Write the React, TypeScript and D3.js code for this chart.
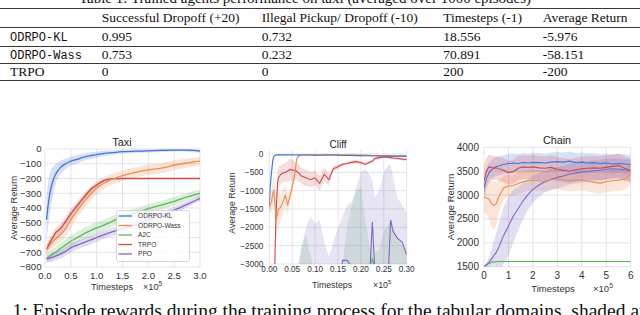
import React, { useEffect, useRef } from "react";
import * as d3 from "d3";

// ---- table ----
const tableCaption = "Table 1: Trained agents performance on taxi (averaged over 1000 episodes)";
const tableHeaders = ["Successful Dropoff (+20)", "Illegal Pickup/ Dropoff (-10)", "Timesteps (-1)", "Average Return"];
const tableAgents = ["ODRPO-KL", "ODRPO-Wass", "TRPO"];
const successfulDropoff = ["0.995", "0.753", "0"];
const illegalPickup = ["0.732", "0.232", "0"];
const timestepsCol = ["18.556", "70.891", "200"];
const averageReturn = ["-5.976", "-58.151", "-200"];
const figCaption = "1: Episode rewards during the training process for the tabular domains, shaded area are one standard deviation";

const seriesNames = ["ODRPO-KL", "ODRPO-Wass", "A2C", "TRPO", "PPO"];
const seriesColors = ["#4574d4", "#ec8a50", "#5db55e", "#d24848", "#7c69c2"];

// ---- taxi (x in 1e5 timesteps) ----
const taxiSteps = [0.03, 0.06, 0.1, 0.15, 0.2, 0.3, 0.4, 0.5, 0.6, 0.75, 0.9, 1.0, 1.15, 1.3, 1.5, 1.75, 2.0, 2.25, 2.5, 2.75, 3.0];
const taxiKL = [-480, -380, -290, -220, -175, -125, -100, -82, -72, -55, -44, -38, -30, -25, -18, -15, -13, -10, -7, -8, -15];
const taxiKLSd = [150, 150, 130, 100, 70, 45, 35, 30, 28, 25, 22, 20, 18, 15, 12, 12, 10, 10, 10, 10, 10];
const taxiWass = [-680, -670, -650, -630, -610, -580, -540, -480, -430, -360, -300, -265, -230, -205, -180, -158, -142, -130, -110, -95, -82];
const taxiWassSd = [35, 35, 38, 40, 45, 50, 55, 55, 50, 48, 45, 42, 40, 38, 35, 35, 35, 35, 33, 30, 28];
const taxiA2C = [-740, -735, -725, -712, -700, -675, -650, -625, -605, -575, -550, -535, -515, -490, -460, -435, -405, -380, -355, -325, -300];
const taxiA2CSd = [30, 30, 32, 35, 35, 38, 40, 40, 40, 38, 38, 36, 35, 35, 33, 32, 30, 30, 28, 26, 25];
const taxiTRPO = [-680, -660, -630, -600, -570, -540, -490, -440, -395, -330, -270, -245, -212, -202, -200, -200, -200, -200, -200, -200, -200];
const taxiTRPOSd = [30, 30, 30, 30, 30, 32, 32, 30, 28, 25, 20, 15, 8, 5, 3, 3, 3, 3, 3, 3, 3];
const taxiPPO = [-745, -742, -738, -733, -726, -713, -695, -670, -655, -635, -615, -600, -580, -562, -540, -515, -480, -450, -415, -375, -335];
const taxiPPOSd = [25, 25, 28, 30, 30, 30, 30, 30, 30, 30, 30, 30, 28, 28, 28, 26, 25, 25, 25, 22, 20];
const taxiXTicks = [0, 0.5, 1, 1.5, 2, 2.5, 3];
const taxiYTicks = [-800, -700, -600, -500, -400, -300, -200, -100, 0];

// ---- cliff ----
const cliffSteps = [0, 0.002, 0.005, 0.008, 0.01, 0.012, 0.015, 0.018, 0.02, 0.025, 0.03, 0.035, 0.04, 0.045, 0.05, 0.055, 0.06, 0.065, 0.07, 0.08, 0.09, 0.1, 0.11, 0.12, 0.13, 0.14, 0.15, 0.16, 0.17, 0.18, 0.19, 0.2, 0.21, 0.22, 0.225, 0.23, 0.24, 0.25, 0.26, 0.265, 0.27, 0.28, 0.29, 0.3];
const cliffKL = [-1400, -900, -480, -150, -70, -40, -30, -25, -25, -25, -25, -30, -25, -30, -25, -30, -30, -25, -30, -30, -30, -35, -35, -30, -30, -30, -35, -40, -40, -40, -45, -45, -50, -50, -50, -50, -55, -60, -60, -55, -60, -60, -60, -60];
const cliffKLSd = [300, 300, 200, 80, 40, 20, 20, 20, 20, 20, 20, 20, 20, 20, 20, 20, 20, 20, 20, 20, 20, 20, 20, 20, 20, 20, 20, 20, 20, 20, 20, 20, 20, 20, 20, 20, 20, 20, 20, 20, 20, 20, 20, 20];
const cliffWass = [-1500, -1400, -1300, -1050, -1000, -1300, -1800, -1650, -1500, -1450, -1300, -1120, -1400, -1150, -900, -600, -120, -50, -30, -30, -25, -25, -25, -25, -25, -25, -25, -25, -25, -25, -30, -30, -30, -40, -40, -40, -45, -50, -45, -55, -60, -55, -60, -60];
const cliffWassSd = [100, 200, 300, 400, 450, 500, 500, 500, 450, 400, 350, 300, 250, 200, 150, 150, 80, 30, 20, 20, 20, 20, 20, 20, 20, 20, 20, 20, 20, 20, 20, 20, 20, 20, 20, 20, 20, 20, 20, 20, 20, 20, 20, 20];
const cliffA2C = [-4000, -4000, -4000, -4000, -4000, -4000, -4000, -4000, -4000, -4000, -4000, -4000, -4000, -4000, -4000, -4000, -4000, -4000, -4000, -4000, -4000, -4000, -4000, -4000, -4000, -4000, -4000, -4000, -4000, -4000, -4000, -4000, -4000, -3100, -2850, -3100, -4000, -4000, -4000, -4000, -4000, -4000, -4000, -4000];
const cliffA2CSd = [900, 900, 900, 900, 900, 900, 900, 900, 900, 900, 900, 900, 900, 900, 900, 900, 900, 1100, 1500, 1800, 1200, 800, 800, 800, 800, 800, 800, 1000, 2000, 2600, 3000, 3100, 2200, 500, 350, 400, 1400, 1900, 2100, 2200, 2000, 1700, 1500, 1300];
const cliffTRPO = [-3500, -3500, -3500, -3500, -3400, -3000, -1500, -800, -650, -560, -520, -500, -470, -420, -440, -440, -480, -520, -600, -650, -700, -650, -800, -550, -700, -400, -350, -280, -260, -230, -210, -240, -280, -220, -200, -130, -100, -80, -90, -100, -110, -125, -140, -150];
const cliffTRPOSd = [0, 0, 0, 0, 0, 0, 400, 300, 280, 260, 250, 260, 280, 300, 280, 260, 240, 230, 220, 220, 200, 200, 200, 180, 160, 80, 60, 50, 50, 50, 50, 50, 50, 50, 50, 50, 50, 40, 40, 40, 40, 40, 40, 40];
const cliffPPO = [-3800, -3800, -3800, -3800, -3800, -3800, -3800, -3800, -3800, -3800, -3800, -3800, -3800, -3800, -3800, -3800, -3800, -3800, -3800, -3800, -3800, -3800, -3800, -3800, -3800, -3800, -3800, -2900, -2900, -3100, -3600, -3800, -3800, -3100, -1850, -3100, -3500, -3500, -3200, -1800, -2100, -2300, -2400, -2750];
const cliffPPOSd = [700, 700, 700, 700, 700, 700, 700, 700, 700, 700, 700, 700, 700, 700, 700, 700, 700, 800, 1200, 1800, 2100, 1900, 2000, 1400, 1000, 1400, 1800, 1200, 1500, 1800, 2700, 3300, 3400, 2500, 1150, 1900, 2500, 3000, 2900, 1500, 1500, 1100, 1000, 1150];
const cliffXTicks = [0, 0.05, 0.1, 0.15, 0.2, 0.25, 0.3];
const cliffYTicks = [-3000, -2500, -2000, -1500, -1000, -500, 0];

// ---- chain ----
const chainSteps = [0, 0.1, 0.2, 0.3, 0.4, 0.5, 0.6, 0.8, 1.0, 1.2, 1.4, 1.6, 1.8, 2.0, 2.25, 2.5, 2.75, 3.0, 3.25, 3.5, 3.75, 4.0, 4.25, 4.5, 4.75, 5.0, 5.25, 5.5, 5.75, 6.0];
const chainKL = [3150, 3350, 3460, 3530, 3570, 3600, 3610, 3640, 3660, 3670, 3660, 3680, 3670, 3685, 3680, 3670, 3690, 3700, 3690, 3710, 3680, 3690, 3670, 3680, 3660, 3670, 3650, 3660, 3650, 3640];
const chainKLSd = [230, 220, 210, 200, 200, 200, 200, 200, 200, 200, 200, 200, 200, 200, 200, 200, 200, 200, 200, 200, 200, 200, 200, 200, 200, 200, 200, 200, 200, 200];
const chainWass = [2960, 2940, 2920, 2830, 2780, 2820, 2960, 3150, 3190, 3200, 3240, 3280, 3300, 3310, 3300, 3290, 3320, 3340, 3320, 3300, 3310, 3320, 3290, 3270, 3250, 3280, 3300, 3310, 3330, 3450];
const chainWassSd = [300, 350, 400, 480, 500, 450, 350, 250, 230, 220, 220, 220, 220, 220, 220, 220, 220, 220, 220, 220, 220, 220, 220, 220, 220, 220, 220, 220, 220, 220];
const chainA2C = [1500, 1530, 1570, 1590, 1600, 1605, 1610, 1610, 1610, 1610, 1610, 1610, 1610, 1610, 1610, 1610, 1610, 1610, 1610, 1610, 1610, 1610, 1610, 1610, 1610, 1610, 1610, 1610, 1610, 1610];
const chainA2CSd = [10, 12, 15, 15, 15, 15, 15, 15, 15, 15, 15, 15, 15, 15, 15, 15, 15, 15, 15, 15, 15, 15, 15, 15, 15, 15, 15, 15, 15, 15];
const chainTRPO = [3300, 3500, 3590, 3580, 3560, 3570, 3550, 3520, 3470, 3490, 3560, 3590, 3580, 3590, 3570, 3560, 3580, 3540, 3520, 3500, 3530, 3550, 3560, 3570, 3560, 3580, 3600, 3620, 3560, 3510];
const chainTRPOSd = [300, 280, 260, 250, 250, 250, 250, 250, 250, 250, 250, 250, 250, 250, 250, 250, 250, 250, 250, 250, 250, 250, 250, 250, 250, 250, 250, 250, 250, 250];
const chainPPO = [1500, 1540, 1590, 1660, 1730, 1800, 1900, 2150, 2350, 2560, 2720, 2880, 3010, 3120, 3210, 3280, 3330, 3370, 3400, 3440, 3460, 3480, 3490, 3510, 3520, 3540, 3550, 3540, 3530, 3520];
const chainPPOSd = [0, 50, 100, 200, 300, 400, 500, 600, 620, 550, 450, 380, 320, 280, 250, 220, 220, 220, 220, 220, 220, 220, 220, 220, 220, 220, 220, 220, 220, 220];
const chainXTicks = [0, 1, 2, 3, 4, 5, 6];
const chainYTicks = [1500, 2000, 2500, 3000, 3500, 4000];

const sansFont = "'Liberation Sans', Arial, sans-serif";
const serifFont = "'Liberation Serif', 'Times New Roman', serif";
const monoFont = "'Liberation Mono', 'DejaVu Sans Mono', monospace";

const minus = (s) => s.replace("-", "\u2212");

const drawPanel = (svg, p) => {
  const x = d3.scaleLinear().domain(p.xDomain).range([p.left, p.right]);
  const y = d3.scaleLinear().domain(p.yDomain).range([p.bottom, p.top]);
  const g = svg.append("g");

  svg
    .append("defs")
    .append("clipPath")
    .attr("id", "clip-" + p.key)
    .append("rect")
    .attr("x", p.left)
    .attr("y", p.top)
    .attr("width", p.right - p.left)
    .attr("height", p.bottom - p.top);

  // grid
  g.selectAll(".gx")
    .data(p.xTicks)
    .enter()
    .append("line")
    .attr("x1", (d) => x(d))
    .attr("x2", (d) => x(d))
    .attr("y1", p.top)
    .attr("y2", p.bottom)
    .attr("stroke", "#dddddd")
    .attr("stroke-width", 0.8);
  g.selectAll(".gy")
    .data(p.yTicks)
    .enter()
    .append("line")
    .attr("x1", p.left)
    .attr("x2", p.right)
    .attr("y1", (d) => y(d))
    .attr("y2", (d) => y(d))
    .attr("stroke", "#dddddd")
    .attr("stroke-width", 0.8);

  const plot = g.append("g").attr("clip-path", `url(#clip-${p.key})`);

  const area = d3
    .area()
    .x((d) => x(d.x))
    .y0((d) => y(d.m - d.s))
    .y1((d) => y(d.m + d.s))
    .curve(p.curve);
  const line = d3
    .line()
    .x((d) => x(d.x))
    .y((d) => y(d.m))
    .curve(p.curve);

  const rows = p.series.map((s) =>
    s.mean.map((m, i) => ({ x: p.steps[i], m, s: s.sd[i] }))
  );

  p.series.forEach((s, k) => {
    plot
      .append("path")
      .datum(rows[k])
      .attr("d", area)
      .attr("fill", s.color)
      .attr("fill-opacity", p.bandOpacity)
      .attr("stroke", "none");
  });
  p.order.forEach((k) => {
    plot
      .append("path")
      .datum(rows[k])
      .attr("d", line)
      .attr("fill", "none")
      .attr("stroke", p.series[k].color)
      .attr("stroke-width", p.lineWidth);
  });

  // tick labels
  g.selectAll(".xl")
    .data(p.xTicks)
    .enter()
    .append("text")
    .attr("x", (d) => x(d))
    .attr("y", p.xLabelY)
    .attr("text-anchor", "middle")
    .attr("font-family", sansFont)
    .attr("font-size", p.tickSize)
    .attr("fill", "#333")
    .text((d) => d3.format(p.xFormat)(d));
  g.selectAll(".yl")
    .data(p.yTicks)
    .enter()
    .append("text")
    .attr("x", p.left - p.yLabelGap)
    .attr("y", (d) => y(d) + p.tickSize * 0.35)
    .attr("text-anchor", "end")
    .attr("font-family", sansFont)
    .attr("font-size", p.tickSize)
    .attr("fill", "#333")
    .text((d) => minus(String(d)));

  g.append("text")
    .attr("x", p.titleX)
    .attr("y", p.titleY)
    .attr("text-anchor", "middle")
    .attr("font-family", sansFont)
    .attr("font-size", p.titleSize)
    .attr("fill", "#222")
    .text(p.title);

  g.append("text")
    .attr("transform", `translate(${p.yTitleX},${p.yTitleY}) rotate(-90)`)
    .attr("text-anchor", "middle")
    .attr("font-family", sansFont)
    .attr("font-size", p.labelSize)
    .attr("fill", "#333")
    .text("Average Return");

  g.append("text")
    .attr("x", p.xTitleX)
    .attr("y", p.xTitleY)
    .attr("text-anchor", "middle")
    .attr("font-family", sansFont)
    .attr("font-size", p.labelSize)
    .attr("fill", "#333")
    .text("Timesteps");

  const sci = g
    .append("text")
    .attr("x", p.sciX)
    .attr("y", p.xTitleY)
    .attr("font-family", sansFont)
    .attr("font-size", p.labelSize)
    .attr("fill", "#333");
  sci.append("tspan").text("\u00d710");
  sci
    .append("tspan")
    .attr("dy", -p.labelSize * 0.4)
    .attr("font-size", p.labelSize * 0.7)
    .text("5");

  return { x, y };
};

const App = () => {
  const ref = useRef(null);

  useEffect(() => {
    document.body.style.margin = "0";
    const svg = d3.select(ref.current);
    svg.selectAll("*").remove();

    // ---- table ----
    svg
      .append("text")
      .attr("x", 305)
      .attr("y", 3)
      .attr("text-anchor", "middle")
      .attr("font-family", serifFont)
      .attr("font-size", 15)
      .attr("fill", "#111")
      .text(tableCaption);

    const ruleYs = [8.5, 27.5, 46.5, 63.5, 80.5];
    svg
      .selectAll(".rule")
      .data(ruleYs)
      .enter()
      .append("line")
      .attr("x1", 0)
      .attr("x2", 640)
      .attr("y1", (d) => d)
      .attr("y2", (d) => d)
      .attr("stroke", "#222")
      .attr("stroke-width", 0.9);

    const colX = [101.7, 261.7, 443.3, 542.7];
    const tableFont = 13.5;
    tableHeaders.forEach((h, i) => {
      svg
        .append("text")
        .attr("x", colX[i])
        .attr("y", 22)
        .attr("font-family", serifFont)
        .attr("font-size", tableFont)
        .attr("fill", "#111")
        .text(h);
    });
    const rowY = [41, 59, 76];
    const cols = [successfulDropoff, illegalPickup, timestepsCol, averageReturn];
    tableAgents.forEach((a, r) => {
      const mono = a !== "TRPO";
      svg
        .append("text")
        .attr("x", 10)
        .attr("y", rowY[r])
        .attr("font-family", mono ? monoFont : serifFont)
        .attr("font-size", mono ? 12 : tableFont)
        .attr("fill", "#111")
        .text(a);
      cols.forEach((c, i) => {
        svg
          .append("text")
          .attr("x", colX[i])
          .attr("y", rowY[r])
          .attr("font-family", serifFont)
          .attr("font-size", tableFont)
          .attr("fill", "#111")
          .text(c[r]);
      });
    });

    const mk = (means, sds) =>
      means.map((m, i) => ({ mean: m, sd: sds[i], color: seriesColors[i] }));

    // ---- taxi ----
    drawPanel(svg, {
      key: "taxi",
      left: 45, right: 200, top: 149, bottom: 267,
      xDomain: [0, 3], yDomain: [-800, 0],
      xTicks: taxiXTicks, yTicks: taxiYTicks, xFormat: ".1f",
      steps: taxiSteps,
      series: mk([taxiKL, taxiWass, taxiA2C, taxiTRPO, taxiPPO], [taxiKLSd, taxiWassSd, taxiA2CSd, taxiTRPOSd, taxiPPOSd]),
      order: [2, 4, 3, 1, 0],
      curve: d3.curveMonotoneX, lineWidth: 1.3, bandOpacity: 0.22,
      tickSize: 9.6, yLabelGap: 3.5, xLabelY: 278.5,
      title: "Taxi", titleX: 122, titleY: 145.5, titleSize: 11,
      labelSize: 9.2, yTitleX: 16.5, yTitleY: 208,
      xTitleX: 112, xTitleY: 289.5, sciX: 143,
    });

    // legend
    const lg = svg.append("g");
    lg.append("rect")
      .attr("x", 116.5).attr("y", 210.5).attr("width", 73).attr("height", 51)
      .attr("rx", 2).attr("fill", "#fff").attr("fill-opacity", 0.82)
      .attr("stroke", "#cccccc").attr("stroke-width", 0.8);
    seriesNames.forEach((n, i) => {
      const yy = 216 + i * 9.5;
      lg.append("line")
        .attr("x1", 118.5).attr("x2", 132).attr("y1", yy).attr("y2", yy)
        .attr("stroke", seriesColors[i]).attr("stroke-width", 1.3);
      lg.append("text")
        .attr("x", 138).attr("y", yy + 2.3)
        .attr("font-family", sansFont).attr("font-size", 6.6).attr("fill", "#333")
        .text(n);
    });

    // ---- cliff ----
    drawPanel(svg, {
      key: "cliff",
      left: 269.3, right: 406.7, top: 150.3, bottom: 264,
      xDomain: [0, 0.3], yDomain: [-3000, 100],
      xTicks: cliffXTicks, yTicks: cliffYTicks, xFormat: ".2f",
      steps: cliffSteps,
      series: mk([cliffKL, cliffWass, cliffA2C, cliffTRPO, cliffPPO], [cliffKLSd, cliffWassSd, cliffA2CSd, cliffTRPOSd, cliffPPOSd]),
      order: [2, 4, 3, 1, 0],
      curve: d3.curveLinear, lineWidth: 1.1, bandOpacity: 0.18,
      tickSize: 8.2, yLabelGap: 6, xLabelY: 272,
      title: "Cliff", titleX: 338, titleY: 148, titleSize: 10,
      labelSize: 8.8, yTitleX: 235, yTitleY: 203,
      xTitleX: 332, xTitleY: 287.5, sciX: 373,
    });

    // ---- chain ----
    drawPanel(svg, {
      key: "chain",
      left: 484, right: 630.7, top: 147.3, bottom: 266.7,
      xDomain: [0, 6], yDomain: [1500, 4000],
      xTicks: chainXTicks, yTicks: chainYTicks, xFormat: "d",
      steps: chainSteps,
      series: mk([chainKL, chainWass, chainA2C, chainTRPO, chainPPO], [chainKLSd, chainWassSd, chainA2CSd, chainTRPOSd, chainPPOSd]),
      order: [2, 4, 1, 0, 3],
      curve: d3.curveLinear, lineWidth: 1.1, bandOpacity: 0.22,
      tickSize: 10, yLabelGap: 5, xLabelY: 278.5,
      title: "Chain", titleX: 557, titleY: 144, titleSize: 10.8,
      labelSize: 9.5, yTitleX: 454, yTitleY: 207,
      xTitleX: 553, xTitleY: 291.5, sciX: 593,
    });

    svg
      .append("text")
      .attr("x", 12.5)
      .attr("y", 317)
      .attr("font-family", serifFont)
      .attr("font-size", 19.5)
      .attr("fill", "#111")
      .text(figCaption);
  }, []);

  return <svg ref={ref} width={640} height={315} style={{ display: "block", background: "#fff" }}></svg>;
};

export default App;
